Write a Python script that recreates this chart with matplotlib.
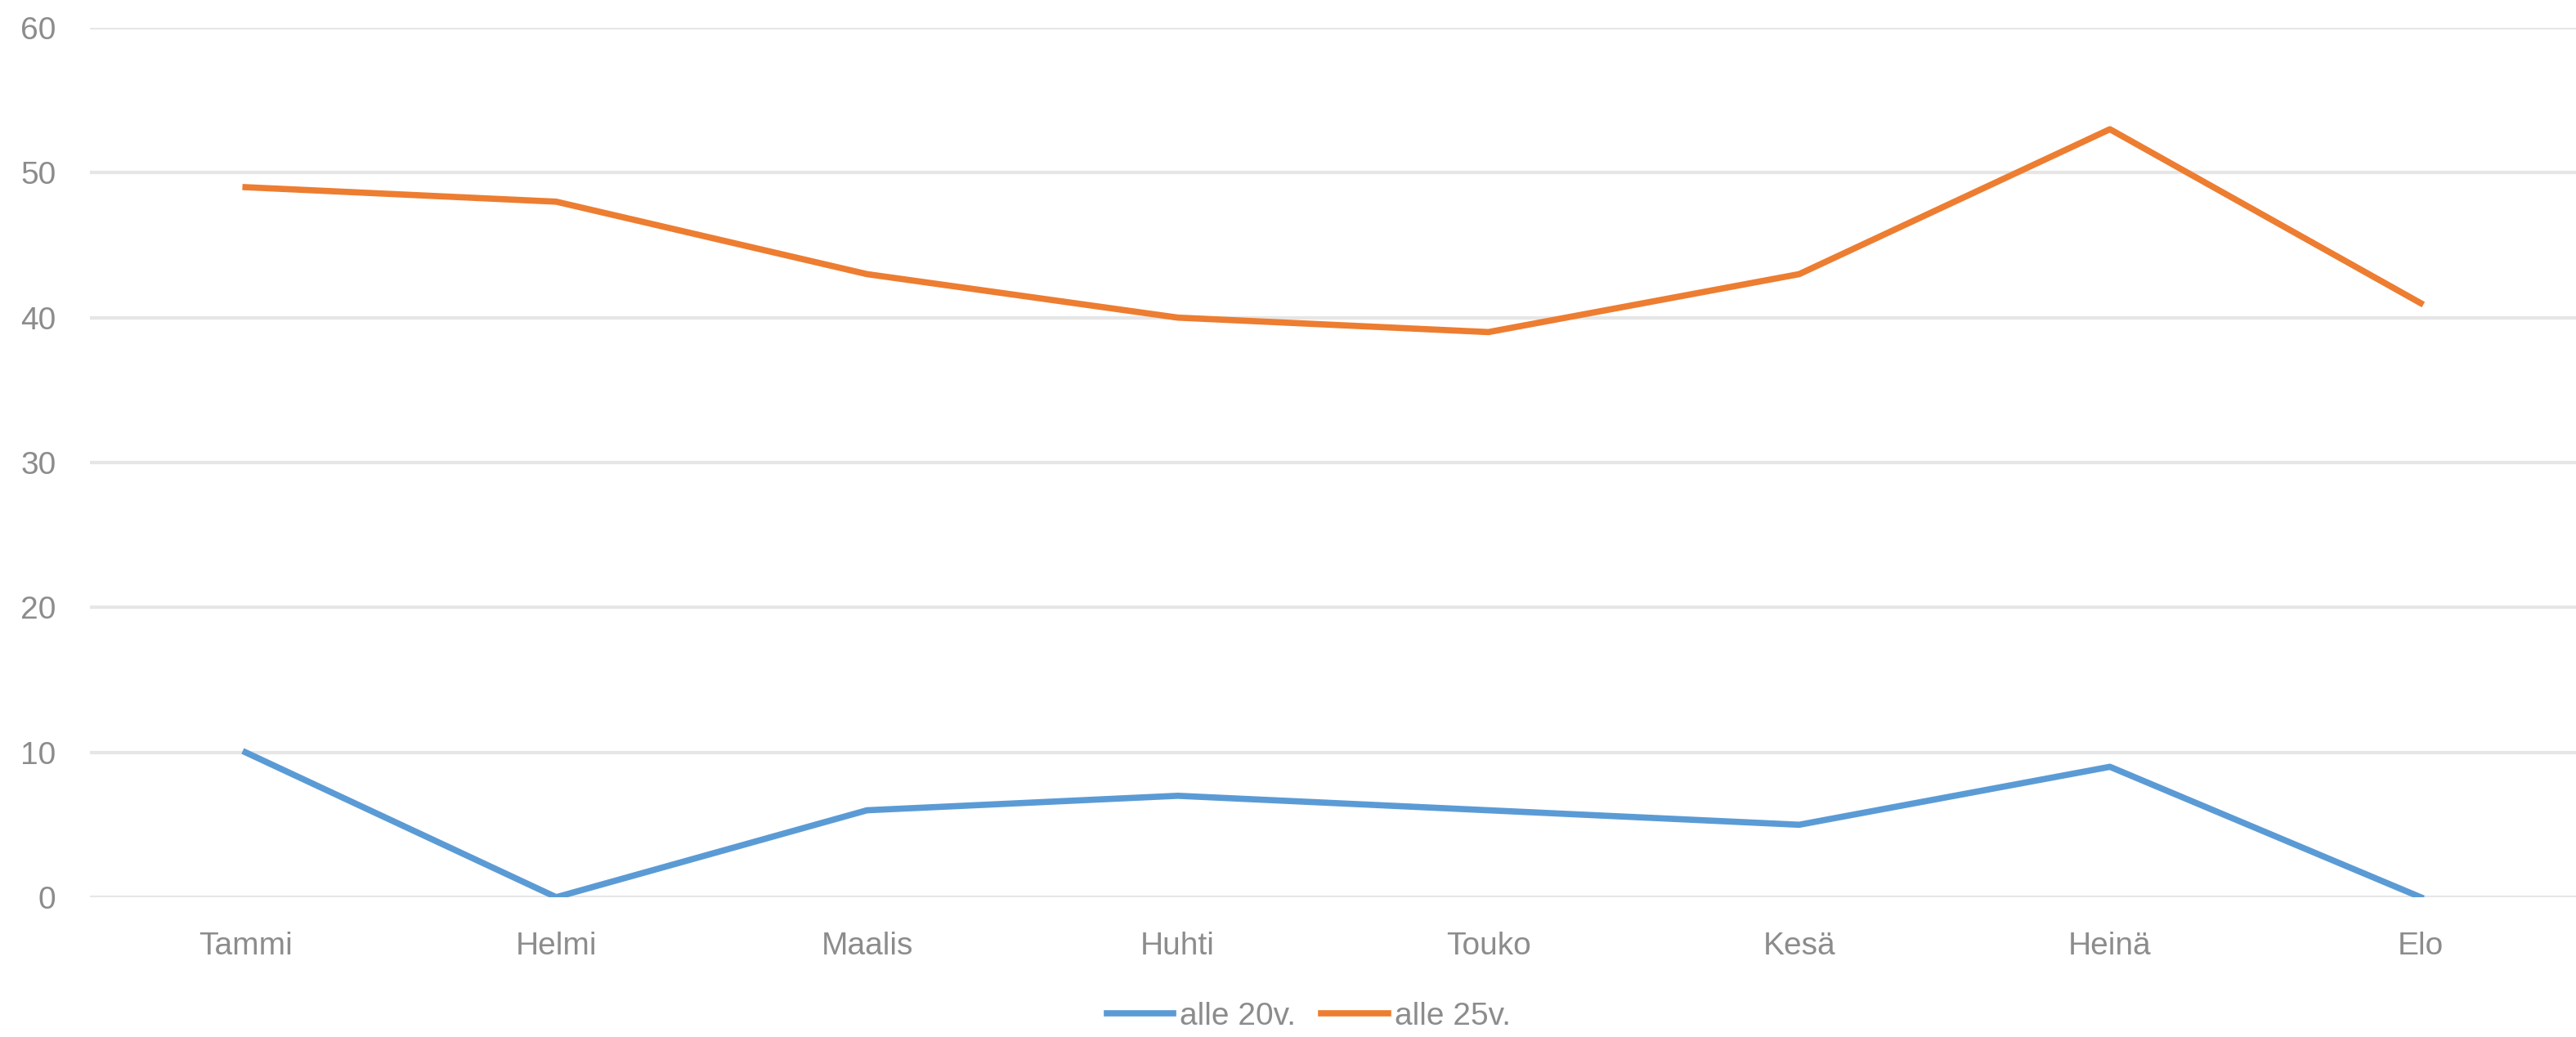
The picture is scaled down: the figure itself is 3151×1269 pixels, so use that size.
import matplotlib.pyplot as plt

months = ["Tammi", "Helmi", "Maalis", "Huhti", "Touko", "Kesä", "Heinä", "Elo"]
alle_20 = [10, 0, 6, 7, 6, 5, 9, 0]
alle_25 = [49, 48, 43, 40, 39, 43, 53, 41]
y_ticks = [0, 10, 20, 30, 40, 50, 60]

plt.rcParams["font.family"] = ["Liberation Sans", "DejaVu Sans"]

fig = plt.figure(figsize=(31.51, 12.69), dpi=100)
ax = fig.add_axes([0.035, 0.1348, 0.965, 0.8384])

x = range(len(months))
ax.plot(x, alle_20, color="#5B9BD5", linewidth=5.5, label="alle 20v.", solid_joinstyle="round")
ax.plot(x, alle_25, color="#ED7D31", linewidth=5.5, label="alle 25v.", solid_joinstyle="round")

ax.set_xlim(-0.5, len(months) - 0.5)
ax.set_ylim(0, 60)
ax.set_yticks(y_ticks)
ax.set_xticks(list(x))
ax.set_xticklabels(months)

ax.grid(True, axis="y", color="#E6E6E6", linewidth=3)
ax.set_axisbelow(True)
for s in ax.spines.values():
    s.set_visible(False)

ax.tick_params(axis="y", length=0, pad=30, labelsize=28, labelcolor="#8C8C8C")
ax.tick_params(axis="x", length=0, pad=30, labelsize=28, labelcolor="#8C8C8C")

fig.legend(loc="center", bbox_to_anchor=(0.508, 0.02), ncol=2, frameon=False,
           fontsize=28, labelcolor="#8C8C8C", handlelength=2.1,
           handletextpad=0.2, columnspacing=0.8)

fig.savefig("out.png", dpi=100, facecolor="white")
